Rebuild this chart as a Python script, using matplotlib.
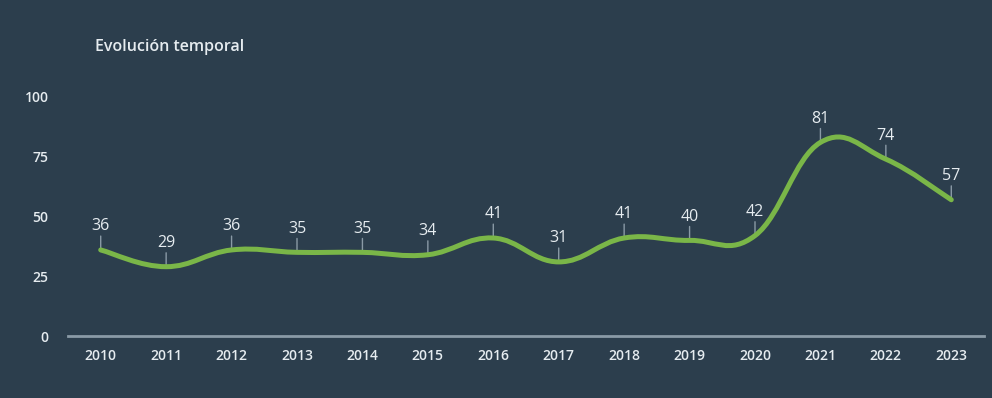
import numpy as np
import matplotlib
matplotlib.use("Agg")
import matplotlib.pyplot as plt
from matplotlib.path import Path
from matplotlib.patches import PathPatch

# Evolución temporal, 2010-2023

years = [2010, 2011, 2012, 2013, 2014, 2015, 2016, 2017, 2018, 2019, 2020, 2021, 2022, 2023]
values = [36, 29, 36, 35, 35, 34, 41, 31, 41, 40, 42, 81, 74, 57]
yticks = [0, 25, 50, 75, 100]

BG = "#2c3e4d"
GREEN = "#7ab648"
TXT = "#e6ecf0"
AXIS = "#8a9aa6"


def smooth_path(x, y, k=5.0):
    # catmull-rom style cubic bezier through every point
    x = np.asarray(x, float)
    y = np.asarray(y, float)
    n = len(x)
    verts = [(x[0], y[0])]
    codes = [Path.MOVETO]
    for i in range(n - 1):
        i0 = max(i - 1, 0)
        i3 = min(i + 2, n - 1)
        c1 = (x[i] + (x[i + 1] - x[i0]) / k, y[i] + (y[i + 1] - y[i0]) / k)
        c2 = (x[i + 1] - (x[i3] - x[i]) / k, y[i + 1] - (y[i3] - y[i]) / k)
        verts += [c1, c2, (x[i + 1], y[i + 1])]
        codes += [Path.CURVE4] * 3
    return Path(verts, codes)


def main():
    plt.rcParams['font.family'] = ['Open Sans', 'DejaVu Sans']
    fig = plt.figure(figsize=(9.92, 3.98), dpi=100, facecolor=BG)
    ax = fig.add_axes([68 / 992, 62 / 398, 916 / 992, 239 / 398])
    ax.set_facecolor(BG)

    xs = np.arange(len(years))
    ax.add_patch(PathPatch(smooth_path(xs, values), facecolor="none",
                           edgecolor=GREEN, lw=3.6, capstyle="round",
                           joinstyle="round", zorder=3))

    for xi, v in zip(xs, values):
        ax.annotate("", xy=(xi, v), xytext=(0, 10), textcoords="offset points",
                    xycoords="data",
                    arrowprops=dict(arrowstyle="-", color=AXIS, lw=1,
                                    shrinkA=0, shrinkB=0),
                    zorder=2)
        ax.annotate(str(v), (xi, v), xytext=(0, 17), textcoords="offset points",
                    ha="center", va="center", color=TXT, fontsize=11.5,
                    annotation_clip=False)

    ax.set_xlim(-0.5, len(years) - 0.5)
    ax.set_ylim(0, 100)
    ax.set_xticks(xs)
    ax.set_xticklabels([str(y) for y in years], fontsize=10, fontweight="semibold")
    ax.set_yticks(yticks)
    ax.set_yticklabels([str(t) for t in yticks], fontsize=10, fontweight="semibold")
    ax.tick_params(colors=TXT, length=0)
    ax.tick_params(axis="x", pad=9)
    ax.tick_params(axis="y", pad=14)
    for s in ["top", "right", "left"]:
        ax.spines[s].set_visible(False)
    ax.spines["bottom"].set_color(AXIS)
    ax.spines["bottom"].set_linewidth(2)

    fig.text(95 / 992, 1 - 47 / 398, "Evolución temporal", color=TXT,
             fontsize=11.5, fontweight="semibold", va="center", ha="left")

    fig.savefig("out.png", dpi=100, facecolor=BG)


if __name__ == "__main__":
    main()
